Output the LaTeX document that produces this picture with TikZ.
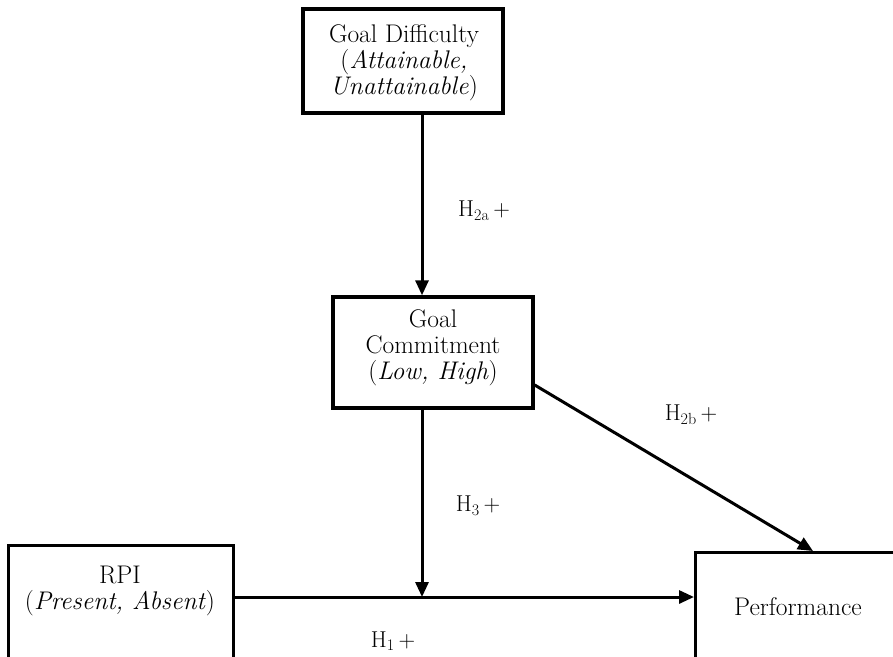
\documentclass[tikz,border=0pt]{standalone}
\usetikzlibrary{arrows.meta,calc}
\begin{document}
\begin{tikzpicture}[x=1pt,y=-1pt,
  box/.style={draw,line width=3.4pt,inner sep=0pt},
  txt/.style={align=center,font=\fontsize{25.5}{26}\selectfont,inner sep=0pt},
  lab/.style={font=\fontsize{23}{26}\selectfont,inner sep=0pt},
  arr/.style={line width=3pt,-{Triangle[length=15pt,width=13pt]}}]
\useasboundingbox (0,0) rectangle (893,656);
\clip (0,0) rectangle (893,656);
% boxes
\node[box,minimum width=200pt,minimum height=104pt] (gd) at (403,61) {};
\node[txt] (gdt) at (404,63) {Goal Difficulty\\(\textit{Attainable,}\\\textit{Unattainable})};
\node[box,minimum width=200pt,minimum height=111pt] (gc) at (433,352.5) {};
\node[txt] (gct) at (433,348) {Goal\\Commitment\\(\textit{Low, High})};
\node[box,minimum width=225pt,minimum height=160pt,anchor=north west] (rpi) at (7,544) {};
\node[txt] (rpit) at (120,591) {RPI\\(\textit{Present, Absent})};
\node[box,minimum width=220pt,minimum height=160pt,anchor=north west] (perf) at (694,551) {};
\node[txt] (perft) at (798,607) {Performance};
% helper coordinates
\coordinate (ax) at (422,0);
\coordinate (hy) at (0,597);
\coordinate (dy) at (0,385);
\coordinate (dx) at (813,0);
% connectors
\draw[arr] (gd.south -| ax) -- (gc.north -| ax);
\draw[arr] (gc.south -| ax) -- (ax |- hy);
\draw[arr] (rpi.east |- hy) -- (perf.west |- hy);
\draw[arr] (gc.east |- dy) -- (perf.north -| dx);
% labels
\node[lab] (h2a) at (484,211) {H\textsubscript{2a}\,+};
\node[lab] (h2b) at (691,415) {H\textsubscript{2b}\,+};
\node[lab] (h3) at (478,506) {H\textsubscript{3}\,+};
\node[lab] (h1) at (393,641) {H\textsubscript{1}\,+};
\end{tikzpicture}
\end{document}
